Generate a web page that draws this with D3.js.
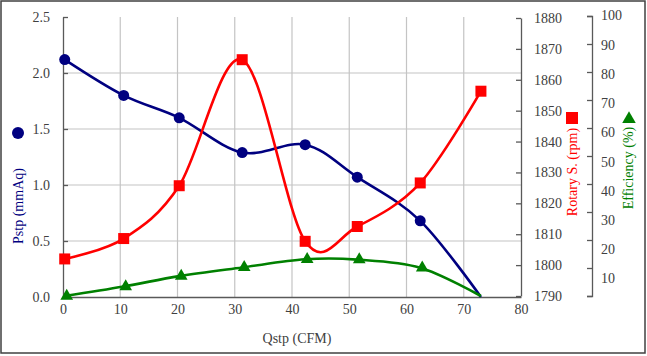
<!DOCTYPE html>
<html><head><meta charset="utf-8">
<script src="https://cdn.jsdelivr.net/npm/d3@7"></script>
<style>
html,body{margin:0;padding:0;background:#fff;}
svg{display:block;font-family:"Liberation Serif","DejaVu Serif",serif;}
</style></head>
<body><svg id="c" width="647" height="356"></svg>
<script>
// ---- data ----
const qstp = [0.3, 10.6, 20.3, 31.3, 42.3, 51.4, 62.4, 73.0];
const pstp = [2.12, 1.80, 1.60, 1.29, 1.36, 1.07, 0.68, 0.0];
const rotary = [1802, 1808.6, 1825.7, 1866.5, 1807.7, 1812.5, 1826.6, 1856.3];
const efficiency = [0, 3.4, 7.1, 10.2, 13.1, 13.0, 10.1, 0];
const xTicks = [0, 10, 20, 30, 40, 50, 60, 70, 80];
const pTicks = [0, 0.5, 1.0, 1.5, 2.0, 2.5];
const rTicks = [1790, 1800, 1810, 1820, 1830, 1840, 1850, 1860, 1870, 1880];
const eTicks = [0, 10, 20, 30, 40, 50, 60, 70, 80, 90, 100];
const eLabels = [10, 20, 30, 40, 50, 60, 70, 80, 90, 100];

const svg = d3.select("#c");
const L = 63, R = 521, T = 17, B = 297;
const x = d3.scaleLinear().domain([0, 80]).range([L, R]);
const yP = d3.scaleLinear().domain([0, 2.5]).range([B, T]);
const yR = d3.scaleLinear().domain([1790, 1880]).range([B - 1, T + 1]);
const yE = d3.scaleLinear().domain([0, 100]).range([296, 16]);
const yELab = d3.scaleLinear().domain([10, 100]).range([278.5, 15.5]);

const axisCol = "#595959", gridCol = "#c4c4c4", txtCol = "#404040";
const navy = "#000080", red = "#ff0000", green = "#008000";

// outer frame
svg.append("rect").attr("x", 1).attr("y", 1).attr("width", 644).attr("height", 352)
  .attr("fill", "#fff").attr("stroke", "#404040").attr("stroke-width", 1.5);

// gridlines
svg.append("g").selectAll("line").data(xTicks.filter(d => d > 0 && d < 80)).join("line")
  .attr("x1", d => x(d)).attr("x2", d => x(d)).attr("y1", T).attr("y2", B)
  .attr("stroke", gridCol).attr("stroke-width", 1.2);
svg.append("g").selectAll("line").data(pTicks.filter(d => d > 0 && d < 2.5)).join("line")
  .attr("x1", L).attr("x2", R).attr("y1", d => yP(d)).attr("y2", d => yP(d))
  .attr("stroke", gridCol).attr("stroke-width", 1.2);

function styleAxis(g) {
  g.select(".domain").attr("stroke", axisCol).attr("stroke-width", 1.3);
  g.selectAll(".tick line").attr("stroke", axisCol).attr("stroke-width", 1.3);
  g.selectAll(".tick text").attr("fill", txtCol).attr("font-size", 14)
    .attr("font-family", "Liberation Serif, serif");
}

// x axis
svg.append("g").attr("transform", `translate(0,${B})`)
  .call(d3.axisBottom(x).tickValues(xTicks).tickSize(0).tickPadding(7).tickSizeOuter(0))
  .call(styleAxis)
  .selectAll(".tick text").attr("dy", "0.71em");

// left axis
svg.append("g").attr("transform", `translate(${L},0)`)
  .call(d3.axisLeft(yP).tickValues(pTicks).tickFormat(d3.format(".1f")).tickSizeInner(-5).tickSizeOuter(0).tickPadding(13))
  .call(styleAxis);

// rotary axis (right of plot)
svg.append("g").attr("transform", `translate(${R},0)`)
  .call(d3.axisRight(yR).tickValues(rTicks).tickFormat(d3.format("d")).tickSizeInner(-5).tickSizeOuter(0).tickPadding(13))
  .call(styleAxis);

// efficiency axis: ticks
const eAx = 592;
svg.append("g").attr("transform", `translate(${eAx},0)`)
  .call(d3.axisRight(yE).tickValues(eTicks).tickFormat("").tickSizeInner(-5).tickSizeOuter(-5))
  .call(styleAxis);
// efficiency labels
svg.append("g").selectAll("text").data(eLabels).join("text")
  .attr("x", eAx + 9).attr("y", d => yELab(d)).attr("dy", "0.35em")
  .attr("fill", txtCol).attr("font-size", 14).text(d => d);

// axis titles
svg.append("text").attr("x", 297).attr("y", 343).attr("text-anchor", "middle")
  .attr("fill", txtCol).attr("font-size", 14).text("Qstp (CFM)");
svg.append("text").attr("transform", "translate(23,206) rotate(-90)").attr("text-anchor", "middle")
  .attr("fill", navy).attr("font-size", 14).text("Pstp (mmAq)");
svg.append("text").attr("transform", "translate(577,172) rotate(-90)").attr("text-anchor", "middle")
  .attr("fill", red).attr("font-size", 14).text("Rotary S. (rpm)");
svg.append("text").attr("transform", "translate(633,168) rotate(-90)").attr("text-anchor", "middle")
  .attr("fill", green).attr("font-size", 14).text("Efficiency (%)");

// legend markers next to titles
svg.append("circle").attr("cx", 18).attr("cy", 133).attr("r", 6).attr("fill", navy);
svg.append("rect").attr("x", 566).attr("y", 112).attr("width", 12).attr("height", 12).attr("fill", red);
svg.append("path").attr("transform", "translate(629,119)")
  .attr("d", d3.symbol(d3.symbolTriangle, 80)()).attr("fill", green);

// series
const curve = d3.curveCardinal.tension(0);
function series(vals, y, col) {
  const pts = qstp.map((q, i) => [x(q), y(vals[i])]);
  svg.append("path").attr("d", d3.line().curve(curve)(pts))
    .attr("fill", "none").attr("stroke", col).attr("stroke-width", 2.6);
  return pts;
}
const pP = series(pstp, yP, navy);
const pR = series(rotary, yR, red);
const pE = series(efficiency, yE, green);

svg.append("g").selectAll("circle").data(pP.slice(0, -1)).join("circle")
  .attr("cx", d => d[0]).attr("cy", d => d[1]).attr("r", 5.5).attr("fill", navy);
svg.append("g").selectAll("rect").data(pR).join("rect")
  .attr("x", d => d[0] - 5.5).attr("y", d => d[1] - 5.5).attr("width", 11).attr("height", 11).attr("fill", red);
svg.append("g").selectAll("path").data(pE.slice(0, -1)).join("path")
  .attr("transform", d => `translate(${d[0] + 2},${d[1]})`)
  .attr("d", d3.symbol(d3.symbolTriangle, 70)()).attr("fill", green);
</script></body></html>
